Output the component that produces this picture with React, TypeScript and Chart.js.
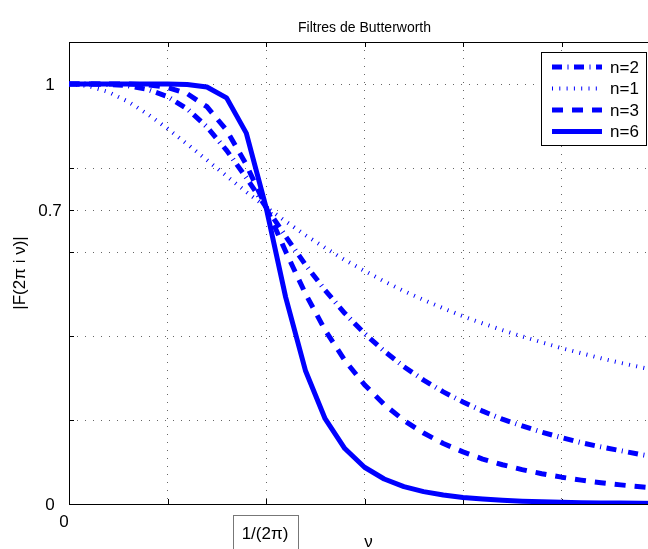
import React, { useEffect, useRef } from "react";
import { Chart, registerables } from "chart.js";

Chart.register(...registerables);

// angular frequency samples (2*pi*nu), 0 .. 3
const omega = [0, 0.1, 0.2, 0.3, 0.4, 0.5, 0.6, 0.7, 0.8, 0.9, 1.0, 1.1, 1.2, 1.3, 1.4, 1.5, 1.6, 1.7, 1.8, 1.9, 2.0, 2.1, 2.2, 2.3, 2.4, 2.5, 2.6, 2.7, 2.8, 2.9, 3.0];

const n1 = [1, 0.995, 0.981, 0.958, 0.928, 0.894, 0.857, 0.819, 0.781, 0.743, 0.707, 0.673, 0.640, 0.610, 0.581, 0.555, 0.530, 0.507, 0.486, 0.466, 0.447, 0.430, 0.414, 0.399, 0.385, 0.371, 0.359, 0.347, 0.336, 0.326, 0.316];
const n2 = [1, 1.0, 0.999, 0.996, 0.987, 0.970, 0.941, 0.898, 0.842, 0.777, 0.707, 0.637, 0.570, 0.509, 0.454, 0.406, 0.364, 0.327, 0.295, 0.267, 0.243, 0.221, 0.202, 0.186, 0.171, 0.158, 0.146, 0.136, 0.127, 0.118, 0.110];
const n3 = [1, 1.0, 1.0, 1.0, 0.998, 0.992, 0.977, 0.946, 0.890, 0.808, 0.707, 0.601, 0.501, 0.414, 0.342, 0.284, 0.237, 0.199, 0.169, 0.144, 0.124, 0.107, 0.0935, 0.0819, 0.0721, 0.0639, 0.0568, 0.0507, 0.0455, 0.041, 0.037];
const n6 = [1, 1.0, 1.0, 1.0, 1.0, 1.0, 0.999, 0.993, 0.967, 0.883, 0.707, 0.492, 0.318, 0.203, 0.132, 0.0875, 0.0595, 0.0414, 0.0294, 0.0213, 0.0156, 0.0117, 0.0088, 0.0068, 0.0052, 0.0041, 0.0032, 0.0026, 0.0021, 0.0017, 0.0014];

const seriesLabels = ["n=2", "n=1", "n=3", "n=6"];
const yGridValues = [0, 0.2, 0.4, 0.6, 0.7, 0.8, 1.0];
const yTickLabels = [
  { v: 1, t: "1" },
  { v: 0.7, t: "0.7" },
  { v: 0, t: "0" },
];
const xTickLabel0 = "0";
const xCutoffLabel = "1/(2\u03c0)";
const xAxisTitle = "\u03bd";
const yAxisTitle = "|F(2\u03c0 i \u03bd)|";
const titleText = "Filtres de Butterworth";

const FONT = '"Liberation Sans", Arial, Helvetica, sans-serif';
const BLUE = "#0000ff";

export default function App() {
  const ref = useRef<HTMLCanvasElement | null>(null);

  useEffect(() => {
    if (!ref.current) return;
    const pts = (arr: number[]) => omega.map((x, i) => ({ x, y: arr[i] }));

    const styles: any[] = [
      { borderWidth: 5, borderDash: [10, 5.5, 1, 5.5] },
      { borderWidth: 4, borderDash: [1, 6.3] },
      { borderWidth: 5, borderDash: [11, 9] },
      { borderWidth: 5, borderDash: [] },
    ];
    const arrays = [n2, n1, n3, n6];

    const frame = {
      id: "frame",
      beforeDatasetsDraw(chart: any) {
        const { ctx, chartArea: a, scales } = chart;
        const x = scales.x, y = scales.y;
        ctx.save();
        ctx.strokeStyle = "#000";
        ctx.lineWidth = 1;
        ctx.beginPath();
        ctx.moveTo(a.left + 0.5, a.top + 0.5);
        ctx.lineTo(a.right + 0.5, a.top + 0.5);
        ctx.lineTo(a.right + 0.5, a.bottom + 0.5);
        ctx.lineTo(a.left + 0.5, a.bottom + 0.5);
        ctx.closePath();
        ctx.stroke();
        ctx.beginPath();
        for (let v = 0; v <= 3.0001; v += 0.5) {
          const px = Math.round(x.getPixelForValue(v)) + 0.5;
          ctx.moveTo(px, a.top);
          ctx.lineTo(px, a.top + 5);
          ctx.moveTo(px, a.bottom);
          ctx.lineTo(px, a.bottom - 5);
        }
        for (const v of yGridValues) {
          const py = Math.round(y.getPixelForValue(v)) + 0.5;
          ctx.moveTo(a.left, py);
          ctx.lineTo(a.left + 5, py);
        }
        ctx.stroke();
        ctx.restore();
      },
      afterDraw(chart: any) {
        const { ctx, chartArea: a, scales } = chart;
        const x = scales.x, y = scales.y;
        ctx.save();
        ctx.fillStyle = "#000";
        // title
        ctx.font = `14px ${FONT}`;
        ctx.textAlign = "center";
        ctx.textBaseline = "middle";
        ctx.fillText(titleText, (a.left + a.right) / 2, 28);
        // y tick labels
        ctx.font = `17px ${FONT}`;
        for (const l of yTickLabels) {
          ctx.fillText(l.t, 50, y.getPixelForValue(l.v) + 1);
        }
        // x tick label 0
        ctx.fillText(xTickLabel0, x.getPixelForValue(0) - 5, 522);
        // cutoff boxed label
        const cx = x.getPixelForValue(1) - 1;
        ctx.strokeStyle = "#777";
        ctx.lineWidth = 1;
        ctx.strokeRect(Math.round(cx - 32.5) + 0.5, 515.5, 65, 40);
        ctx.fillText(xCutoffLabel, cx, 534);
        // x title
        ctx.fillText(xAxisTitle, (a.left + a.right) / 2 + 4, 542);
        // y title
        ctx.save();
        ctx.translate(20, (a.top + a.bottom) / 2);
        ctx.rotate(-Math.PI / 2);
        ctx.fillText(yAxisTitle, 0, 0);
        ctx.restore();

        // legend
        const lx = 541, ly = 52, lw = 105, lh = 93;
        ctx.fillStyle = "#fff";
        ctx.fillRect(lx, ly, lw, lh);
        ctx.strokeStyle = "#000";
        ctx.strokeRect(lx + 0.5, ly + 0.5, lw, lh);
        const rows = [67, 88.5, 110, 131.5];
        chart.data.datasets.forEach((ds: any, i: number) => {
          const ry = rows[i];
          ctx.save();
          ctx.strokeStyle = ds.borderColor;
          ctx.lineWidth = ds.borderWidth;
          ctx.setLineDash(ds.borderDash || []);
          ctx.lineCap = "butt";
          ctx.beginPath();
          ctx.moveTo(552, ry);
          ctx.lineTo(602, ry);
          ctx.stroke();
          ctx.restore();
          ctx.fillStyle = "#000";
          ctx.font = `17px ${FONT}`;
          ctx.textAlign = "left";
          ctx.textBaseline = "middle";
          ctx.fillText(ds.label, 610, ry + 1);
        });
        ctx.restore();
      },
    };

    const chart = new Chart(ref.current, {
      type: "line",
      data: {
        datasets: arrays.map((arr, i) => ({
          label: seriesLabels[i],
          data: pts(arr),
          borderColor: BLUE,
          backgroundColor: BLUE,
          borderWidth: styles[i].borderWidth,
          borderDash: styles[i].borderDash,
          borderCapStyle: "butt",
          borderJoinStyle: "round",
          pointRadius: 0,
          tension: 0,
          fill: false,
        })),
      },
      options: {
        responsive: false,
        animation: false,
        events: [],
        layout: { padding: { left: 69, right: 40, top: 42, bottom: 45 } },
        plugins: { legend: { display: false }, title: { display: false }, tooltip: { enabled: false } },
        scales: {
          x: {
            type: "linear",
            min: 0,
            max: 3,
            ticks: { display: false, stepSize: 0.5 },
            grid: { color: "rgba(0,0,0,0.6)", lineWidth: 1, drawTicks: false },
            border: { display: false, dash: [1, 7] },
            afterFit: (s: any) => { s.height = 0; },
          },
          y: {
            type: "linear",
            min: 0,
            max: 1.1,
            ticks: { display: false },
            afterBuildTicks: (s: any) => { s.ticks = yGridValues.map((v) => ({ value: v })); },
            grid: { color: "rgba(0,0,0,0.6)", lineWidth: 1, drawTicks: false },
            border: { display: false, dash: [1, 7] },
            afterFit: (s: any) => { s.width = 0; },
          },
        },
      } as any,
      plugins: [frame],
    });
    return () => chart.destroy();
  }, []);

  return (
    <div style={{ position: "absolute", left: 0, top: 0, width: 648, height: 549, overflow: "hidden", background: "#fff" }}>
      <canvas ref={ref} width={700} height={549} style={{ display: "block" }} />
    </div>
  );
}
